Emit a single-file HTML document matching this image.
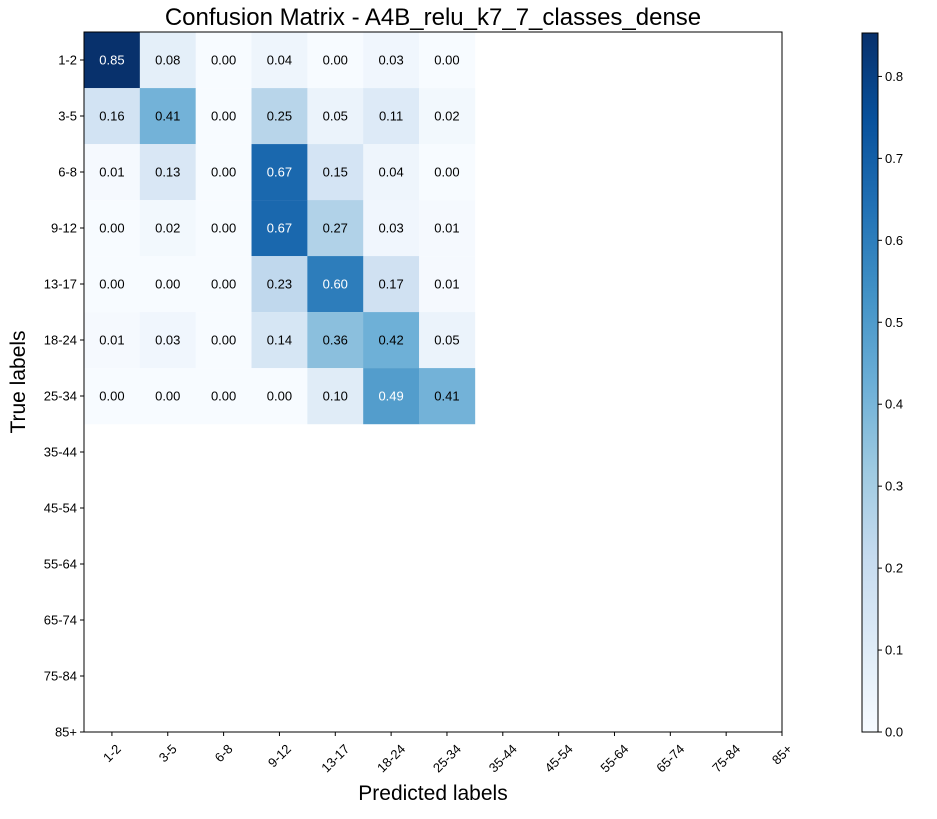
<!DOCTYPE html>
<html><head><meta charset="utf-8"><style>body{margin:0;background:#fff}svg{font-family:"Liberation Sans","DejaVu Sans",sans-serif}</style></head>
<body>
<svg id="c" width="937" height="814"></svg>
<script>
const labels=["1-2","3-5","6-8","9-12","13-17","18-24","25-34","35-44","45-54","55-64","65-74","75-84","85+"];
const matrix=[
[0.85,0.08,0.00,0.04,0.00,0.03,0.00],
[0.16,0.41,0.00,0.25,0.05,0.11,0.02],
[0.01,0.13,0.00,0.67,0.15,0.04,0.00],
[0.00,0.02,0.00,0.67,0.27,0.03,0.01],
[0.00,0.00,0.00,0.23,0.60,0.17,0.01],
[0.01,0.03,0.00,0.14,0.36,0.42,0.05],
[0.00,0.00,0.00,0.00,0.10,0.49,0.41]];
const cbTicks=[0.0,0.1,0.2,0.3,0.4,0.5,0.6,0.7,0.8];
const vmax=0.853;
const NS="http://www.w3.org/2000/svg";
const svg=document.getElementById('c');
function mk(t,a,p){const e=document.createElementNS(NS,t);for(const k in a)e.setAttribute(k,a[k]);(p||svg).appendChild(e);return e;}
const L=84,R=782,T=32,B=732;
const sx=v=>L+(v+0.5)*(R-L)/12.5;
const sy=v=>T+(v+0.5)*(B-T)/12.5;
const cw=(R-L)/12.5;
const stops=["#f7fbff","#deebf7","#c6dbef","#9ecae1","#6baed6","#4292c6","#2171b5","#08519c","#08306b"].map(h=>[1,3,5].map(i=>parseInt(h.substr(i,2),16)));
function cmap(v){let t=Math.max(0,Math.min(1,v/vmax))*8;let i=Math.min(7,Math.floor(t)),f=t-i;const a=stops[i],b=stops[i+1];return`rgb(${a.map((x,k)=>Math.round(x+(b[k]-x)*f)).join(',')})`;}
matrix.forEach((row,r)=>row.forEach((v,c)=>{
 const rect=mk('rect',{x:sx(c)-cw/2,y:sy(r)-cw/2,width:cw+0.3,height:cw+0.3,fill:cmap(v)});
 
 
 const t=mk('text',{x:sx(c),y:sy(r)+4.5,'text-anchor':'middle','font-size':'13',fill:v>vmax/2?'#fff':'#000'});
 t.textContent=v.toFixed(2);
 
 
}));
const fr=mk('rect',{x:L,y:T,width:R-L,height:B-T,fill:'none',stroke:'#000','stroke-width':1});

labels.forEach((lab,i)=>{
 mk('line',{x1:L,x2:L-4,y1:sy(i),y2:sy(i),stroke:'#000'});
 const ty=mk('text',{x:L-7,y:sy(i)+4.5,'text-anchor':'end','font-size':'13'});ty.textContent=lab;
 
 mk('line',{x1:sx(i),x2:sx(i),y1:B,y2:B+4,stroke:'#000'});
 const tx=mk('text',{x:0,y:0,'text-anchor':'middle','font-size':'13'});tx.textContent=lab;
 
 const w=tx.getComputedTextLength();
 const cyy=B+11+(w+10)*0.7071/2;
 tx.setAttribute('transform',`translate(${sx(i)},${cyy}) rotate(-45) translate(0,4.5)`);
});
let e=mk('text',{x:(L+R)/2,y:25,'text-anchor':'middle','font-size':'24'});e.textContent='Confusion Matrix - A4B_relu_k7_7_classes_dense';

e=mk('text',{x:(L+R)/2,y:800,'text-anchor':'middle','font-size':'21'});e.textContent='Predicted labels';

e=mk('text',{x:0,y:0,'text-anchor':'middle','font-size':'21',transform:`translate(25,${(T+B)/2}) rotate(-90)`});e.textContent='True labels';

const CL=862,CR=878,CT=33,CB=732;
const defs=mk('defs',{});const g=mk('linearGradient',{id:'gr',x1:0,y1:1,x2:0,y2:0},defs);
stops.forEach((s,i)=>mk('stop',{offset:i/8,'stop-color':`rgb(${s.join(',')})`},g));
e=mk('rect',{x:CL,y:CT,width:CR-CL,height:CB-CT,fill:'url(#gr)',stroke:'#000','stroke-width':1});

const cy=v=>CB-(CB-CT)*v/vmax;
cbTicks.forEach(v=>{
 mk('line',{x1:CR,x2:CR+4,y1:cy(v),y2:cy(v),stroke:'#000'});
 const t=mk('text',{x:CR+7,y:cy(v)+4.5,'font-size':'13'});t.textContent=v.toFixed(1);
 
});
</script>
</body></html>
